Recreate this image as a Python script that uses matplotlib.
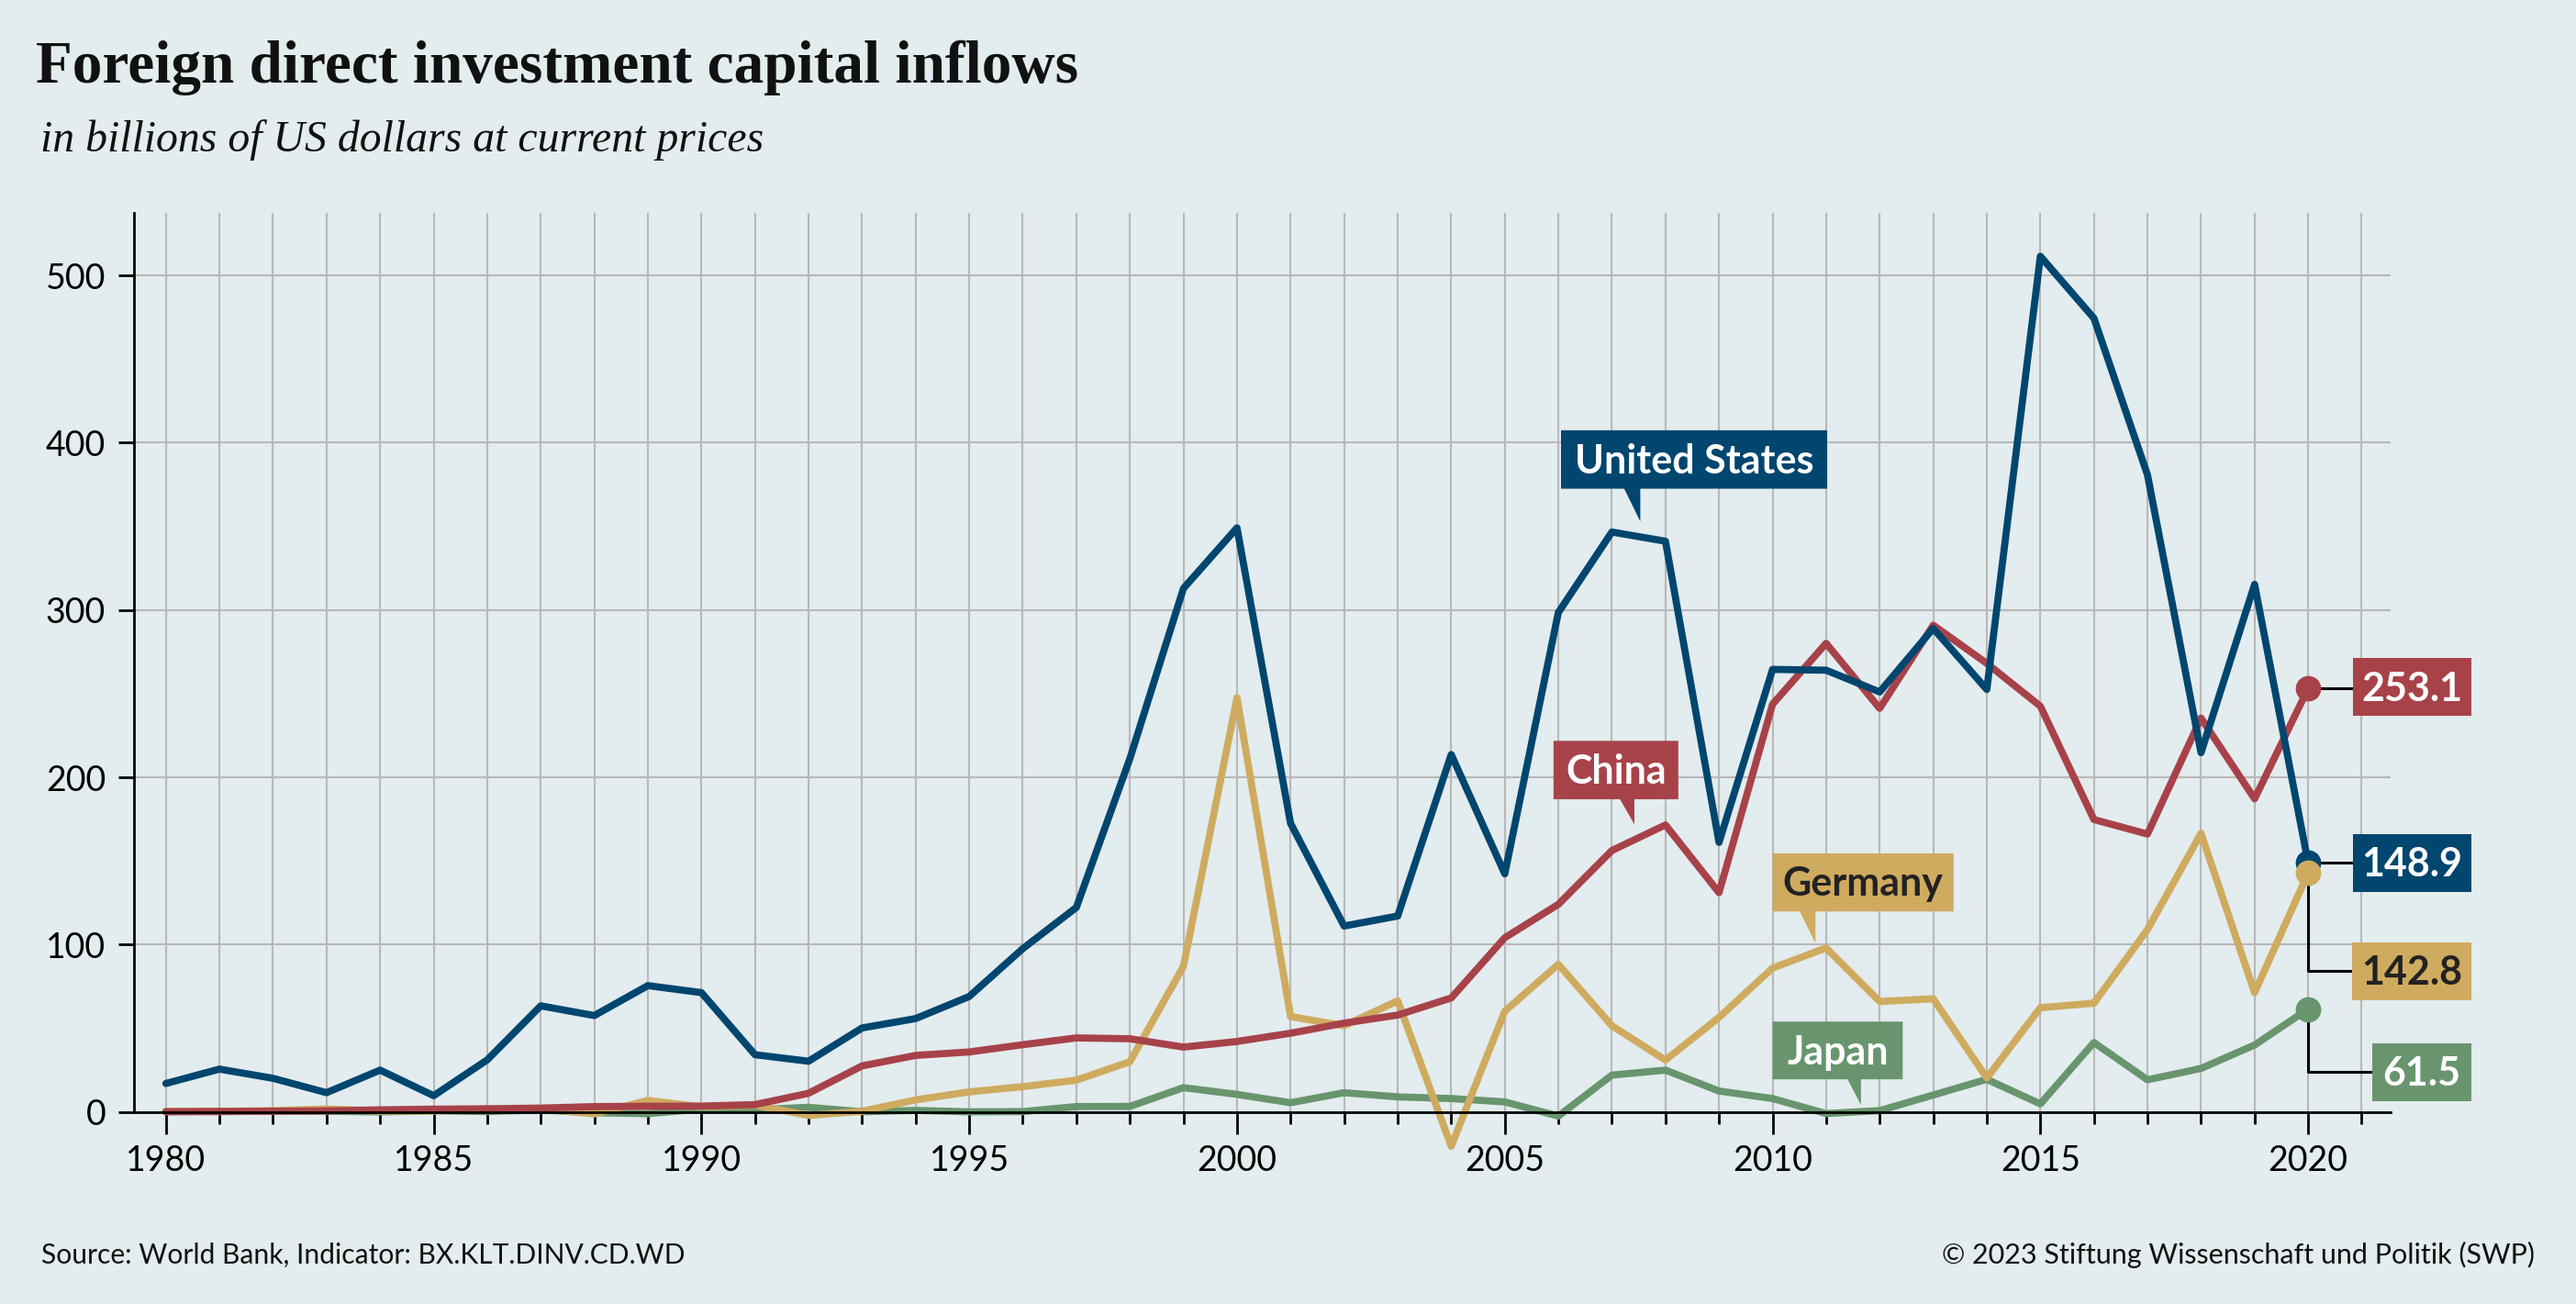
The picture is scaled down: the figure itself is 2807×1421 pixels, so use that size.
import matplotlib
matplotlib.use("Agg")
import matplotlib.pyplot as plt
from matplotlib.patches import Polygon, Rectangle
from matplotlib.ticker import MultipleLocator

# ---------------- data ----------------
years = list(range(1980, 2021))
us = [17.0, 25.6, 20.1, 11.5, 25.0, 9.7, 31.1, 63.4, 57.6, 75.5, 71.3, 34.2, 30.3, 50.2, 55.8,
      69.0, 97.6, 122.2, 211.2, 312.9, 349.1, 172.5, 111.1, 117.1, 213.6, 142.3, 298.5, 346.6,
      341.1, 161.1, 264.5, 264.0, 251.0, 289.0, 252.5, 511.4, 474.4, 380.8, 214.7, 315.3, 148.9]
china = [0.06, 0.27, 0.43, 0.64, 1.26, 1.66, 1.88, 2.31, 3.19, 3.39, 3.49, 4.37, 11.16, 27.52,
         33.79, 35.85, 40.18, 44.24, 43.75, 38.75, 42.10, 47.05, 53.07, 57.90, 68.12, 104.11,
         124.08, 156.25, 171.53, 131.06, 243.70, 280.07, 241.21, 290.93, 268.10, 242.49, 174.75,
         166.08, 235.37, 187.17, 253.1]
germany = [0.34, 0.33, 0.80, 1.77, 0.56, 0.59, 1.19, 1.95, -1.2, 6.9, 3.0, 4.1, -2.1, 0.4, 7.2,
           12.0, 15.1, 19.0, 30.0, 87.0, 247.6, 57.0, 51.5, 66.4, -20.5, 60.2, 88.2, 51.5, 31.0,
           56.5, 86.0, 98.0, 66.0, 67.6, 20.3, 62.3, 65.0, 109.0, 166.5, 71.3, 142.8]
japan = [0.28, 0.19, 0.44, 0.42, 0.0, 0.64, 0.23, 1.17, -0.5, -1.06, 1.78, 1.28, 2.76, 0.12, 0.91,
         0.04, 0.2, 3.2, 3.3, 14.5, 10.5, 5.5, 11.5, 9.0, 8.0, 6.0, -2.5, 22.0, 25.0, 12.5, 8.0,
         -1.0, 0.8, 10.1, 19.5, 4.8, 41.5, 19.2, 26.0, 40.0, 61.5]

names = ["United States", "China", "Germany", "Japan"]
colors = {"United States": "#00466F", "China": "#A84249", "Germany": "#CFAB5F", "Japan": "#68956E"}
series = {"United States": us, "China": china, "Germany": germany, "Japan": japan}

title = "Foreign direct investment capital inflows"
subtitle = "in billions of US dollars at current prices"
source = "Source: World Bank, Indicator: BX.KLT.DINV.CD.WD"
copyright_txt = "\u00a9 2023 Stiftung Wissenschaft und Politik (SWP)"

# ---------------- style ----------------
BG = "#E3ECEE"
SANS = ["Lato", "DejaVu Sans"]
SERIF = ["Liberation Serif", "DejaVu Serif"]
plt.rcParams["font.family"] = SANS

W, H, DPI = 2807, 1421, 200
fig = plt.figure(figsize=(W / DPI, H / DPI), dpi=DPI, facecolor=BG)

ax = fig.add_axes([146 / W, 1 - 1211.7 / H, (2605 - 146) / W, (1211.7 - 231.7) / H])
ax.set_facecolor(BG)
ax.set_xlim(1979.405, 2021.54)
ax.set_ylim(0, 537.5)

for s in ["top", "right"]:
    ax.spines[s].set_visible(False)
for s in ["left", "bottom"]:
    ax.spines[s].set_color("black")
    ax.spines[s].set_linewidth(1.0)
    ax.spines[s].set_zorder(4)

ax.xaxis.set_major_locator(MultipleLocator(5))
ax.xaxis.set_minor_locator(MultipleLocator(1))
ax.yaxis.set_major_locator(MultipleLocator(100))
ax.tick_params(axis="x", which="major", length=8.6, width=1.0, direction="out", pad=4,
               labelsize=13.5, colors="black")
ax.tick_params(axis="x", which="minor", length=4.7, width=1.0, direction="out")
ax.tick_params(axis="y", which="major", length=6.1, width=1.0, direction="out", pad=5,
               labelsize=13.5)
ax.grid(True, which="both", axis="x", color="#B8B8B8", lw=0.75, zorder=0)
ax.grid(True, which="major", axis="y", color="#B8B8B8", lw=0.75, zorder=0)
ax.set_axisbelow(True)

# ---------------- lines ----------------
order = ["Japan", "Germany", "China", "United States"]
for i, n in enumerate(order):
    ax.plot(years, series[n], color=colors[n], lw=2.8, solid_joinstyle="round",
            solid_capstyle="round", clip_on=False, zorder=3 + i * 0.1)

# end markers
for i, n in enumerate(["China", "United States", "Germany", "Japan"]):
    ax.plot([years[-1]], [series[n][-1]], "o", ms=9, color=colors[n], clip_on=False,
            zorder=5 + i * 0.1)

# ---------------- callouts with tails ----------------
# (x0, x1, ytop, ybot, tail_left, tail_right, tip_y)
callouts = {
    "United States": (2006.05, 2011.02, 407.4, 372.5, 2007.23, 2007.53, 352.9),
    "China": (2005.91, 2008.24, 221.8, 186.9, 2007.15, 2007.42, 171.9),
    "Germany": (2010.00, 2013.38, 154.5, 119.8, 2010.51, 2010.80, 100.9),
    "Japan": (2010.00, 2012.43, 54.0, 19.5, 2011.40, 2011.65, 4.2),
}
for n, (x0, x1, yt, yb, tl, tr, tip) in callouts.items():
    poly = Polygon([(x0, yt), (x1, yt), (x1, yb), (tr, yb), (tr, tip), (tl, yb), (x0, yb)],
                   closed=True, fc=colors[n], ec="none", zorder=6, clip_on=False)
    ax.add_patch(poly)
    tc = "#222222" if n == "Germany" else "white"
    ax.text((x0 + x1) / 2, (yt + yb) / 2 - 1, n, ha="center", va="center", fontsize=15.5,
            fontweight="bold", color=tc, zorder=7, clip_on=False)

# ---------------- end value boxes ----------------
# (box left, box right, box centre y)
endboxes = {
    "China": (2020.84, 2023.05, 253.9),
    "United States": (2020.84, 2023.05, 148.8),
    "Germany": (2020.82, 2023.05, 84.1),
    "Japan": (2021.20, 2023.05, 23.8),
}
half_h = 17.4
for n, (bx0, bx1, cy) in endboxes.items():
    v = series[n][-1]
    x_end = years[-1]
    if abs(cy - v) < 3:
        ax.plot([x_end, bx0], [v, v], color="black", lw=1.1, zorder=4.5, clip_on=False)
    else:
        ax.plot([x_end, x_end, bx0], [v, cy, cy], color="black", lw=1.1, zorder=4.5,
                clip_on=False)
    ax.add_patch(Rectangle((bx0, cy - half_h), bx1 - bx0, 2 * half_h, fc=colors[n], ec="none",
                           zorder=6, clip_on=False))
    tc = "#222222" if n == "Germany" else "white"
    ax.text((bx0 + bx1) / 2, cy - 1, f"{v:.1f}", ha="center", va="center", fontsize=15.5,
            fontweight="bold", color=tc, zorder=7, clip_on=False)

# ---------------- titles & notes ----------------
fig.text(39.4 / W, 1 - 90 / H, title, family=SERIF, fontweight="bold", fontsize=23.5,
         ha="left", va="baseline", color="#111111")
fig.text(44 / W, 1 - 165 / H, subtitle, family=SERIF, style="italic", fontsize=17.2,
         ha="left", va="baseline", color="#111111")
fig.text(44.8 / W, 1 - 1377 / H, source, fontsize=10.8, ha="left", va="baseline",
         color="#111111")
fig.text(2762 / W, 1 - 1377 / H, copyright_txt, fontsize=11, ha="right", va="baseline",
         color="#111111")

fig.savefig("out.png", dpi=DPI, facecolor=BG)
